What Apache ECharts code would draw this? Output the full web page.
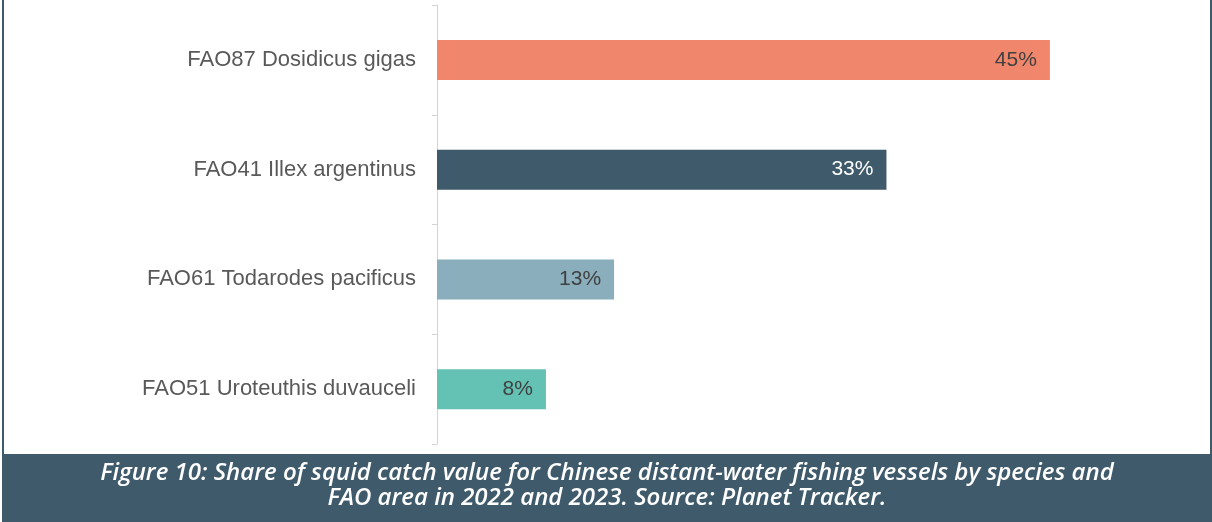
<!DOCTYPE html>
<html>
<head>
<meta charset="utf-8">
<style>
  html, body { margin: 0; padding: 0; background: #ffffff; }
  #chart { width: 1212px; height: 522px; }
</style>
<script src="https://cdn.jsdelivr.net/npm/echarts@6/dist/echarts.min.js"></script>
</head>
<body>
<div id="chart"></div>
<script>
// Squid catch value share by species / FAO area
const categories = [
  'FAO87 Dosidicus gigas',
  'FAO41 Illex argentinus',
  'FAO61 Todarodes pacificus',
  'FAO51 Uroteuthis duvauceli'
];
const shares = [45, 33, 13, 8];
const barColors = ['#f0876c', '#3f5a6a', '#8aaebb', '#64c2b4'];
const labelColors = ['#404040', '#ffffff', '#404040', '#404040'];
const captionLines = [
  'Figure 10: Share of squid catch value for Chinese distant-water fishing vessels by species and',
  'FAO area in 2022 and 2023. Source: Planet Tracker.'
];

const slate = '#3f5b6b';
const chart = echarts.init(document.getElementById('chart'));

const captionStyle = {
  fill: '#ffffff', align: 'center', verticalAlign: 'middle',
  fontFamily: 'Open Sans, sans-serif', fontStyle: 'italic', fontWeight: 600, fontSize: 24
};

chart.setOption({
  backgroundColor: '#ffffff',
  animation: false,
  grid: { left: 437, top: 5, height: 439, right: 94, containLabel: false },
  xAxis: {
    type: 'value',
    min: 0,
    max: 50,
    show: false
  },
  yAxis: {
    type: 'category',
    inverse: true,
    data: categories,
    offset: 3,
    axisLine: { show: true, lineStyle: { color: '#d4d4d4', width: 1 } },
    axisTick: { show: true, length: 5, lineStyle: { color: '#d4d4d4' } },
    axisLabel: {
      margin: 18,
      fontFamily: 'Liberation Sans, Arial, sans-serif',
      fontSize: 22,
      color: '#595959'
    },
    splitLine: { show: false }
  },
  series: [{
    type: 'bar',
    barWidth: 40,
    data: shares.map((v, i) => ({
      value: v,
      itemStyle: { color: barColors[i] },
      label: { color: labelColors[i] }
    })),
    label: {
      show: true,
      position: 'insideRight',
      distance: 13,
      fontFamily: 'Liberation Sans, Arial, sans-serif',
      fontSize: 21,
      formatter: p => p.value + '%'
    }
  }],
  graphic: [
    { type: 'rect', shape: { x: 2, y: 0, width: 2, height: 454 }, style: { fill: slate }, silent: true },
    { type: 'rect', shape: { x: 1210, y: 0, width: 2, height: 454 }, style: { fill: slate }, silent: true },
    { type: 'rect', shape: { x: 2, y: 454, width: 1210, height: 68 }, style: { fill: slate }, silent: true },
    { type: 'text', x: 607, y: 473, style: Object.assign({ text: captionLines[0] }, captionStyle) },
    { type: 'text', x: 607, y: 498, style: Object.assign({ text: captionLines[1] }, captionStyle) }
  ]
});
</script>
</body>
</html>
